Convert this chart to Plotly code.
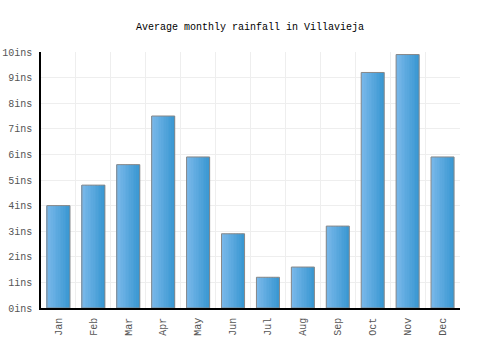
import plotly.graph_objects as go

months = ["Jan", "Feb", "Mar", "Apr", "May", "Jun", "Jul", "Aug", "Sep", "Oct", "Nov", "Dec"]
rainfall = [4.0, 4.8, 5.6, 7.5, 5.9, 2.9, 1.2, 1.6, 3.2, 9.2, 9.9, 5.9]
y_ticks = list(range(0, 11))
y_labels = ["%dins" % v for v in y_ticks]

BAR_W = 0.66
N_SLICES = 14
c0 = (122, 184, 234)
c1 = (58, 152, 210)

fig = go.Figure()
for i in range(N_SLICES):
    t = i / (N_SLICES - 1)
    col = tuple(round(a + (b - a) * t) for a, b in zip(c0, c1))
    fig.add_trace(go.Bar(
        x=months, y=rainfall,
        width=BAR_W / N_SLICES + 0.002,
        offset=-BAR_W / 2 + i * BAR_W / N_SLICES,
        marker=dict(color="rgb(%d,%d,%d)" % col, line=dict(width=0)),
        hoverinfo="skip", showlegend=False,
    ))
fig.add_trace(go.Bar(
    x=months, y=rainfall, width=BAR_W, offset=-BAR_W / 2,
    marker=dict(color="rgba(0,0,0,0)", line=dict(color="#888888", width=1)),
    showlegend=False,
))

fig.update_layout(
    width=500, height=350,
    margin=dict(l=41, r=40, t=52, b=42),
    barmode="overlay",
    plot_bgcolor="white", paper_bgcolor="white",
    font=dict(family="Liberation Mono", size=10, color="#555555"),
    title=dict(text="Average monthly rainfall in Villavieja", x=0.5, xanchor="center",
               y=0.925, yanchor="middle", font=dict(size=10, color="#000000")),
)
fig.update_xaxes(
    type="category", tickangle=-90, tickson="boundaries", showgrid=True,
    gridcolor="#eeeeee", gridwidth=1, showline=True, linecolor="#000000", linewidth=1.5,
    ticks="", ticklabelstandoff=4, mirror=False, automargin=False,
)
fig.update_yaxes(
    range=[0, 10], tickmode="array", tickvals=y_ticks, ticktext=y_labels, showgrid=True,
    gridcolor="#eeeeee", gridwidth=1, showline=True, linecolor="#000000", linewidth=1.5,
    ticks="", zeroline=False, ticklabelstandoff=5, automargin=False,
)
fig.write_html("out.html")
